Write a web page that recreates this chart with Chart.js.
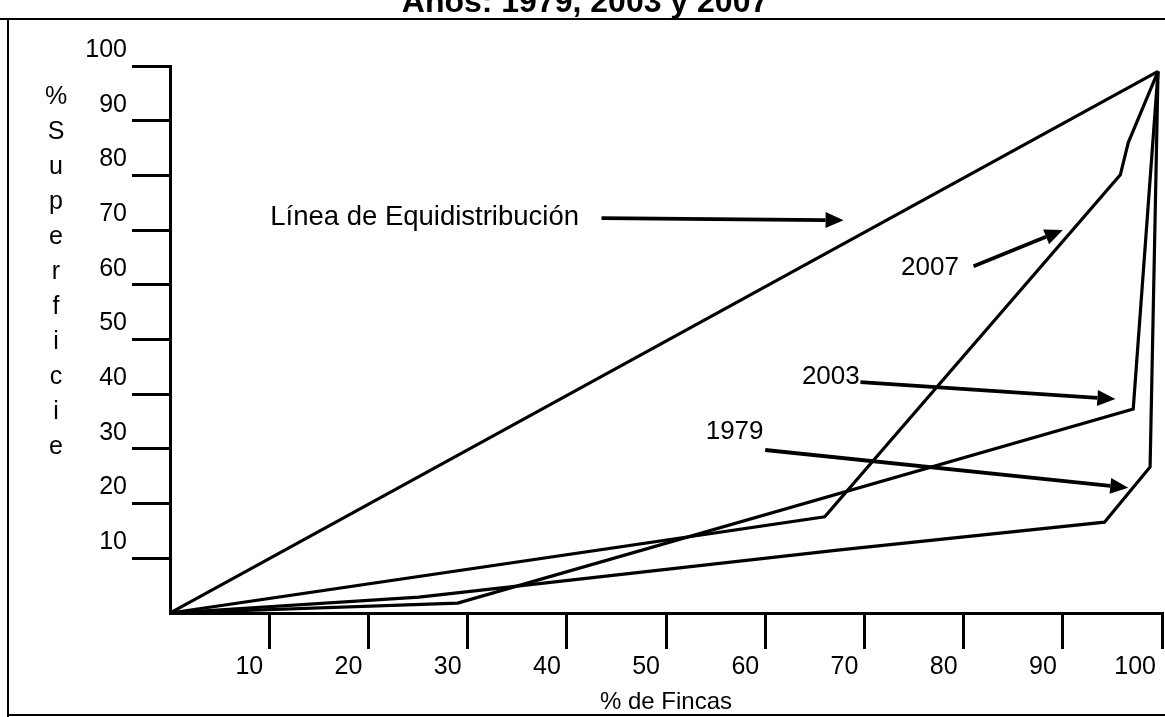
<!DOCTYPE html>
<html>
<head>
<meta charset="utf-8">
<script src="https://cdn.jsdelivr.net/npm/chart.js@4.4.1/dist/chart.umd.min.js"></script>
<style>
  html, body { margin: 0; padding: 0; background: #fff; }
  #wrap { width: 1165px; height: 717px; position: relative; }
</style>
</head>
<body>
<div id="wrap"><canvas id="c" width="1165" height="717"></canvas></div>
<script>
// ---- data (percent of farms vs percent of surface) ----
const tickValues = [0, 10, 20, 30, 40, 50, 60, 70, 80, 90, 100];

const equiX = [0, 99.6];
const equiY = [0, 99];

const x2007 = [0, 66.0, 95.8, 96.6, 99.6];
const y2007 = [0, 17.6, 80.1, 86.0, 99];

const x2003 = [0, 29.0, 97.1, 99.6];
const y2003 = [0, 1.8, 37.3, 99];

const x1979 = [0, 25.1, 67.3, 94.2, 98.8, 99.6];
const y1979 = [0, 2.9, 11.5, 16.6, 26.7, 99];

const titleText = 'Años: 1979, 2003 y 2007';
const xTitle = '% de Fincas';
const yTitle = '% Superficie';

// annotation labels (text, text anchor, arrow start, arrow tip) in data units
const annLabels = ['Línea de Equidistribución', '2007', '2003', '1979'];
const annTextPos = [[10.1, 72.4], [73.7, 63.1], [63.7, 43.1], [54.0, 33.1]];
const annArrowFrom = [[43.5, 72.2], [81.0, 63.4], [69.6, 42.2], [60.0, 29.8]];
const annArrowTo = [[67.9, 71.8], [90.0, 70.0], [95.3, 39.1], [96.6, 22.9]];

function pts(xs, ys) { return xs.map((x, i) => ({ x: x, y: ys[i] })); }

const FONT = "'Liberation Sans', Arial, sans-serif";

const lineStyle = { borderColor: '#000', borderWidth: 3.2, pointRadius: 0, showLine: true, tension: 0, fill: false };

const decor = {
  id: 'decor',
  afterDraw(chart) {
    const ctx = chart.ctx;
    const xs = chart.scales.x, ys = chart.scales.y;
    ctx.save();
    // frame
    ctx.strokeStyle = '#000';
    ctx.lineWidth = 2;
    ctx.beginPath();
    ctx.moveTo(0, 19); ctx.lineTo(1165, 19);
    ctx.moveTo(8, 19); ctx.lineTo(8, 717);
    ctx.moveTo(8, 715); ctx.lineTo(1165, 715);
    ctx.stroke();
    // title (cut off at top, as in the reference)
    ctx.fillStyle = '#000';
    ctx.font = 'bold 32px ' + FONT;
    ctx.textAlign = 'center';
    ctx.textBaseline = 'alphabetic';
    ctx.fillText(titleText, 585, 12);
    // vertical stacked y title
    ctx.font = '25px ' + FONT;
    ctx.textBaseline = 'middle';
    const chars = yTitle.replace(/ /g, '').split('');
    const y0 = 97, step = (447 - 97) / (chars.length - 1);
    chars.forEach((ch, i) => ctx.fillText(ch, 56, y0 + i * step));
    // annotations with arrows
    annLabels.forEach((txt, i) => {
      ctx.font = (i === 0 ? '27.5px ' : '26px ') + FONT;
      ctx.textAlign = 'left';
      ctx.textBaseline = 'middle';
      ctx.fillText(txt, xs.getPixelForValue(annTextPos[i][0]), ys.getPixelForValue(annTextPos[i][1]));
      const x1 = xs.getPixelForValue(annArrowFrom[i][0]), y1 = ys.getPixelForValue(annArrowFrom[i][1]);
      const x2 = xs.getPixelForValue(annArrowTo[i][0]), y2 = ys.getPixelForValue(annArrowTo[i][1]);
      const ang = Math.atan2(y2 - y1, x2 - x1);
      const hl = 18, hw = 8;
      const bx = x2 - hl * Math.cos(ang), by = y2 - hl * Math.sin(ang);
      ctx.lineWidth = 3.8;
      ctx.beginPath();
      ctx.moveTo(x1, y1); ctx.lineTo(bx, by);
      ctx.stroke();
      ctx.beginPath();
      ctx.moveTo(x2, y2);
      ctx.lineTo(bx + hw * Math.sin(ang), by - hw * Math.cos(ang));
      ctx.lineTo(bx - hw * Math.sin(ang), by + hw * Math.cos(ang));
      ctx.closePath();
      ctx.fill();
    });
    ctx.restore();
  }
};

const gridCol = (c) => (c.tick && c.tick.value === 0) ? 'rgba(0,0,0,0)' : '#000';

new Chart(document.getElementById('c'), {
  type: 'scatter',
  data: {
    datasets: [
      Object.assign({ label: 'Línea de Equidistribución', data: pts(equiX, equiY) }, lineStyle),
      Object.assign({ label: '2007', data: pts(x2007, y2007) }, lineStyle),
      Object.assign({ label: '2003', data: pts(x2003, y2003) }, lineStyle),
      Object.assign({ label: '1979', data: pts(x1979, y1979) }, lineStyle)
    ]
  },
  options: {
    responsive: false,
    animation: false,
    devicePixelRatio: 1,
    layout: { padding: { top: 66, right: 1, left: 0, bottom: 0 } },
    plugins: { legend: { display: false }, tooltip: { enabled: false }, title: { display: false } },
    scales: {
      x: {
        type: 'linear', min: 0, max: 100,
        afterFit(s) { s.height = 104; },
        afterBuildTicks(s) { s.ticks = tickValues.map(v => ({ value: v })); },
        border: { display: true, color: '#000', width: 3 },
        grid: { drawOnChartArea: false, drawTicks: true, tickLength: 36, lineWidth: 3, color: gridCol },
        ticks: {
          color: '#000', font: { family: FONT, size: 25 }, padding: 3,
          align: 'end', labelOffset: -6, maxRotation: 0, autoSkip: false,
          callback: v => v === 0 ? '' : String(v)
        },
        title: { display: true, text: xTitle, color: '#000', font: { family: FONT, size: 24 }, padding: { top: 1, bottom: 0 } }
      },
      y: {
        type: 'linear', min: 0, max: 100,
        afterFit(s) { s.width = 170; },
        afterBuildTicks(s) { s.ticks = tickValues.map(v => ({ value: v })); },
        border: { display: true, color: '#000', width: 3 },
        grid: { drawOnChartArea: false, drawTicks: true, tickLength: 38, lineWidth: 3, color: gridCol },
        ticks: {
          color: '#000', font: { family: FONT, size: 25 }, padding: 5,
          labelOffset: -16, autoSkip: false,
          callback: v => v === 0 ? '' : String(v)
        }
      }
    }
  },
  plugins: [decor]
});
</script>
</body>
</html>
